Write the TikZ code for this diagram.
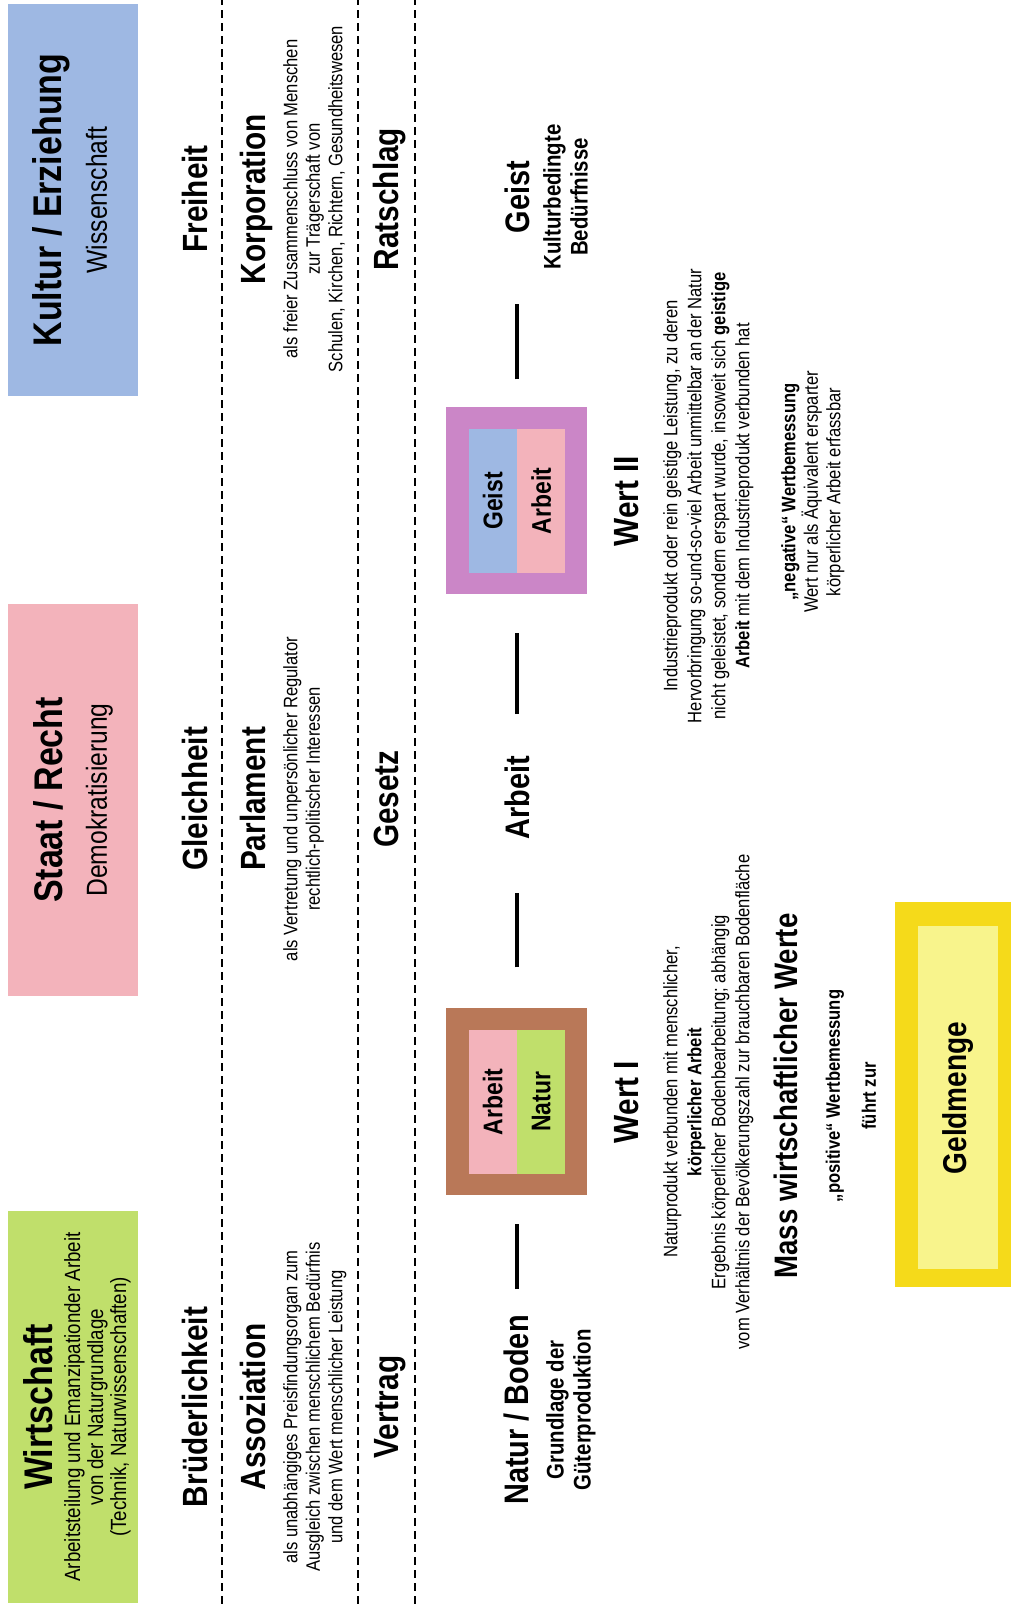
\documentclass[tikz,border=0pt]{standalone}
\usepackage{fontspec}
\setmainfont{Liberation Sans}[FakeStretch=0.85]
\usepackage{tikz}
\usetikzlibrary{positioning}
\definecolor{gruen}{HTML}{C0DF6B}
\definecolor{rosa}{HTML}{F3B3BB}
\definecolor{blau}{HTML}{9EB8E3}
\definecolor{braun}{HTML}{B97858}
\definecolor{lila}{HTML}{CB86C7}
\definecolor{gelb}{HTML}{F5DA1A}
\definecolor{hellgelb}{HTML}{F8F48C}
\tikzstyle{kopf}=[minimum width=392pt, minimum height=130pt, inner sep=0pt]
\tikzstyle{kopftitel}=[anchor=base, inner sep=0pt, font=\fontsize{40}{44}\selectfont\bfseries]
\tikzstyle{kopfsub}=[anchor=base, inner sep=0pt, font=\fontsize{29}{32}\selectfont]
\tikzstyle{zeile}=[anchor=base, inner sep=0pt, font=\fontsize{35}{38}\selectfont\bfseries]
\tikzstyle{erkl}=[anchor=north, align=center, inner sep=0pt, font=\fontsize{19.5}{22.5}\selectfont]
\tikzstyle{mitte}=[inner sep=0pt, font=\fontsize{34}{38}\selectfont\bfseries]
\tikzstyle{unter}=[anchor=north, align=center, inner sep=0pt, font=\fontsize{24}{27}\selectfont\bfseries]
\tikzstyle{wert}=[minimum width=187pt, minimum height=141pt, inner sep=0pt]
\tikzstyle{halb}=[minimum width=144pt, minimum height=48pt, inner sep=0pt, font=\fontsize{27}{30}\selectfont\bfseries]
\tikzstyle{strich}=[line width=4.5pt]
\tikzstyle{trenner}=[line width=1.6pt, dash pattern=on 8pt off 5pt]

\begin{document}
\begin{tikzpicture}[x=1pt, y=1pt, rotate=90, transform shape]
  \useasboundingbox (0,0) rectangle (1604,1011);
  % Kopf
  \node[kopf, fill=gruen] (wi) at (197,938) {};
  \node[kopf, fill=rosa] (st) at (804,938) {};
  \node[kopf, fill=blau] (ku) at (1404,938) {};
  \node[kopftitel] (wit) at (197,958) {Wirtschaft};
  \node[kopfsub, anchor=north, align=center, font=\fontsize{22}{23}\selectfont] (wis) at (197,947) {Arbeitsteilung und Emanzipationder Arbeit\\von der Naturgrundlage\\(Technik, Naturwissenschaften)};
  \node[kopftitel] (stt) at (804,948) {Staat / Recht};
  \node[kopfsub] (sts) at (804,904) {Demokratisierung};
  \node[kopftitel] (kut) at (1404,949) {Kultur / Erziehung};
  \node[kopfsub] (kus) at (1404,904) {Wissenschaft};

  % Trennlinien
  \draw[trenner] (0,789) -- (1604,789);
  \draw[trenner] (0,653) -- (1604,653);
  \draw[trenner] (0,596) -- (1604,596);

  % Zeilen
  \node[zeile] (bru) at (197,803) {Brüderlichkeit};
  \node[zeile] (gle) at (805,803) {Gleichheit};
  \node[zeile] (fre) at (1405,803) {Freiheit};
  \node[zeile] (ass) at (197,745) {Assoziation};
  \node[zeile] (par) at (805,745) {Parlament};
  \node[zeile] (kor) at (1405,745) {Korporation};
  \node[erkl] (asst) at (197,728) {als unabhängiges Preisfindungsorgan zum\\Ausgleich zwischen menschlichem Bedürfnis\\und dem Wert menschlicher Leistung};
  \node[erkl] (part) at (805,728) {als Vertretung und unpersönlicher Regulator\\rechtlich-politischer Interessen};
  \node[erkl] (kort) at (1405,728) {als freier Zusammenschluss von Menschen\\zur Trägerschaft von\\Schulen, Kirchen, Richtern, Gesundheitswesen};
  \node[zeile] (ver) at (197,612) {Vertrag};
  \node[zeile] (ges) at (805,612) {Gesetz};
  \node[zeile] (rat) at (1405,612) {Ratschlag};

  % Mitte
  \node[mitte] (nb) at (194,494) {Natur / Boden};
  \node[unter] (nbt) at (194,465) {Grundlage der\\Güterproduktion};
  \node[wert, fill=braun] (w1) at (502,494) {};
  \node[halb, fill=rosa, anchor=south] (w1a) at (w1.center) {Arbeit};
  \node[halb, fill=gruen, anchor=north] (w1n) at (w1.center) {Natur};
  \node[mitte] (ar) at (806,494) {Arbeit};
  \node[wert, fill=lila] (w2) at (1103,494) {};
  \node[halb, fill=blau, anchor=south] (w2g) at (w2.center) {Geist};
  \node[halb, fill=rosa, anchor=north] (w2a) at (w2.center) {Arbeit};
  \node[mitte] (ge) at (1407,494) {Geist};
  \node[unter] (get) at (1407,468) {Kulturbedingte\\Bedürfnisse};
  \draw[strich, shorten <=26pt, shorten >=28pt] (nb) -- (w1);
  \draw[strich, shorten <=41pt, shorten >=53pt] (w1) -- (ar);
  \draw[strich, shorten <=42pt, shorten >=38pt] (ar) -- (w2);
  \draw[strich, shorten <=28pt, shorten >=71pt] (w2) -- (ge);

  % Werte
  \node[zeile] (wt1) at (502,372) {Wert I};
  \node[zeile] (wt2) at (1103,372) {Wert II};
  \node[erkl, font=\fontsize{19.5}{24}\selectfont] (wt1t) at (502,348) {Naturprodukt verbunden mit menschlicher,\\\textbf{körperlicher Arbeit}\\Ergebnis körperlicher Bodenbearbeitung; abhängig\\vom Verhältnis der Bevölkerungszahl zur brauchbaren Bodenfläche};
  \node[erkl, font=\fontsize{19.5}{24}\selectfont] (wt2t) at (1108,348) {Industrieprodukt oder rein geistige Leistung, zu deren\\Hervorbringung so-und-so-viel Arbeit unmittelbar an der Natur\\nicht geleistet, sondern erspart wurde, insoweit sich \textbf{geistige}\\\textbf{Arbeit} mit dem Industrieprodukt verbunden hat};
  \node[erkl] (neg) at (1112,230) {\textbf{„negative“ Wertbemessung}\\Wert nur als Äquivalent ersparter\\körperlicher Arbeit erfassbar};
  \node[zeile, font=\fontsize{32.5}{36}\selectfont\bfseries] (mass) at (508,213) {Mass wirtschaftlicher Werte};
  \node[zeile, font=\fontsize{19.5}{22}\selectfont\bfseries] (pos) at (508,171) {„positive“ Wertbemessung};
  \node[zeile, font=\fontsize{19.5}{22}\selectfont\bfseries] (fz) at (508,135) {führt zur};

  % Geldmenge
  \node[fill=gelb, minimum width=385pt, minimum height=116pt, inner sep=0pt] (gr) at (509.5,58) {};
  \node[fill=hellgelb, minimum width=343pt, minimum height=80pt, inner sep=0pt, font=\fontsize{33}{36}\selectfont\bfseries] (geld) at (506,53) {Geldmenge};
\end{tikzpicture}
\end{document}
